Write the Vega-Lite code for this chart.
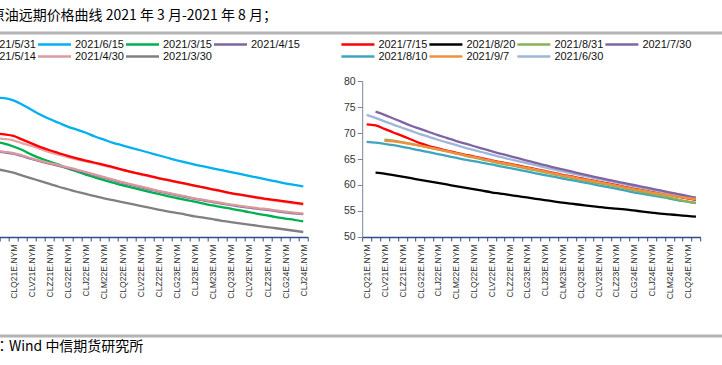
{
"$schema":"https://vega.github.io/schema/vega-lite/v6.json",
"padding":{"left":-61.3,"top":9,"right":0,"bottom":0},
"background":"white",
"bounds":"flush",
"spacing":10,
"config":{"view":{"stroke":null},"font":"Liberation Sans","line":{"strokeWidth":2.3,"interpolate":"monotone"}},
"datasets":{
"L":[
{"series":"2021/3/30","contract":"CLM21E.NYM","price":60.9},{"series":"2021/3/30","contract":"CLN21E.NYM","price":60.65},{"series":"2021/3/30","contract":"CLQ21E.NYM","price":60.3},{"series":"2021/3/30","contract":"CLU21E.NYM","price":59.85},{"series":"2021/3/30","contract":"CLV21E.NYM","price":59.4},{"series":"2021/3/30","contract":"CLX21E.NYM","price":58.95},{"series":"2021/3/30","contract":"CLZ21E.NYM","price":58.5},{"series":"2021/3/30","contract":"CLF22E.NYM","price":58.05},{"series":"2021/3/30","contract":"CLG22E.NYM","price":57.65},{"series":"2021/3/30","contract":"CLH22E.NYM","price":57.25},{"series":"2021/3/30","contract":"CLJ22E.NYM","price":56.9},{"series":"2021/3/30","contract":"CLK22E.NYM","price":56.55},{"series":"2021/3/30","contract":"CLM22E.NYM","price":56.2},{"series":"2021/3/30","contract":"CLN22E.NYM","price":55.9},{"series":"2021/3/30","contract":"CLQ22E.NYM","price":55.6},{"series":"2021/3/30","contract":"CLU22E.NYM","price":55.3},{"series":"2021/3/30","contract":"CLV22E.NYM","price":55.0},{"series":"2021/3/30","contract":"CLX22E.NYM","price":54.7},{"series":"2021/3/30","contract":"CLZ22E.NYM","price":54.4},{"series":"2021/3/30","contract":"CLF23E.NYM","price":54.1},{"series":"2021/3/30","contract":"CLG23E.NYM","price":53.85},{"series":"2021/3/30","contract":"CLH23E.NYM","price":53.6},{"series":"2021/3/30","contract":"CLJ23E.NYM","price":53.3},{"series":"2021/3/30","contract":"CLK23E.NYM","price":53.1},{"series":"2021/3/30","contract":"CLM23E.NYM","price":52.85},{"series":"2021/3/30","contract":"CLN23E.NYM","price":52.6},{"series":"2021/3/30","contract":"CLQ23E.NYM","price":52.4},{"series":"2021/3/30","contract":"CLU23E.NYM","price":52.2},{"series":"2021/3/30","contract":"CLV23E.NYM","price":52.0},{"series":"2021/3/30","contract":"CLX23E.NYM","price":51.8},{"series":"2021/3/30","contract":"CLZ23E.NYM","price":51.6},{"series":"2021/3/30","contract":"CLF24E.NYM","price":51.4},{"series":"2021/3/30","contract":"CLG24E.NYM","price":51.2},{"series":"2021/3/30","contract":"CLH24E.NYM","price":51.0},{"series":"2021/3/30","contract":"CLJ24E.NYM","price":50.8},
{"series":"2021/3/15","contract":"CLM21E.NYM","price":65.3},{"series":"2021/3/15","contract":"CLN21E.NYM","price":64.95},{"series":"2021/3/15","contract":"CLQ21E.NYM","price":64.5},{"series":"2021/3/15","contract":"CLU21E.NYM","price":63.95},{"series":"2021/3/15","contract":"CLV21E.NYM","price":63.2},{"series":"2021/3/15","contract":"CLX21E.NYM","price":62.6},{"series":"2021/3/15","contract":"CLZ21E.NYM","price":62.1},{"series":"2021/3/15","contract":"CLF22E.NYM","price":61.6},{"series":"2021/3/15","contract":"CLG22E.NYM","price":61.0},{"series":"2021/3/15","contract":"CLH22E.NYM","price":60.5},{"series":"2021/3/15","contract":"CLJ22E.NYM","price":60.0},{"series":"2021/3/15","contract":"CLK22E.NYM","price":59.55},{"series":"2021/3/15","contract":"CLM22E.NYM","price":59.1},{"series":"2021/3/15","contract":"CLN22E.NYM","price":58.7},{"series":"2021/3/15","contract":"CLQ22E.NYM","price":58.3},{"series":"2021/3/15","contract":"CLU22E.NYM","price":57.95},{"series":"2021/3/15","contract":"CLV22E.NYM","price":57.6},{"series":"2021/3/15","contract":"CLX22E.NYM","price":57.25},{"series":"2021/3/15","contract":"CLZ22E.NYM","price":56.9},{"series":"2021/3/15","contract":"CLF23E.NYM","price":56.55},{"series":"2021/3/15","contract":"CLG23E.NYM","price":56.25},{"series":"2021/3/15","contract":"CLH23E.NYM","price":55.95},{"series":"2021/3/15","contract":"CLJ23E.NYM","price":55.65},{"series":"2021/3/15","contract":"CLK23E.NYM","price":55.35},{"series":"2021/3/15","contract":"CLM23E.NYM","price":55.05},{"series":"2021/3/15","contract":"CLN23E.NYM","price":54.8},{"series":"2021/3/15","contract":"CLQ23E.NYM","price":54.55},{"series":"2021/3/15","contract":"CLU23E.NYM","price":54.25},{"series":"2021/3/15","contract":"CLV23E.NYM","price":54.0},{"series":"2021/3/15","contract":"CLX23E.NYM","price":53.7},{"series":"2021/3/15","contract":"CLZ23E.NYM","price":53.45},{"series":"2021/3/15","contract":"CLF24E.NYM","price":53.2},{"series":"2021/3/15","contract":"CLG24E.NYM","price":52.95},{"series":"2021/3/15","contract":"CLH24E.NYM","price":52.75},{"series":"2021/3/15","contract":"CLJ24E.NYM","price":52.5},
{"series":"2021/4/15","contract":"CLM21E.NYM","price":63.75},{"series":"2021/4/15","contract":"CLN21E.NYM","price":63.55},{"series":"2021/4/15","contract":"CLQ21E.NYM","price":63.35},{"series":"2021/4/15","contract":"CLU21E.NYM","price":62.95},{"series":"2021/4/15","contract":"CLV21E.NYM","price":62.5},{"series":"2021/4/15","contract":"CLX21E.NYM","price":62.1},{"series":"2021/4/15","contract":"CLZ21E.NYM","price":61.75},{"series":"2021/4/15","contract":"CLF22E.NYM","price":61.4},{"series":"2021/4/15","contract":"CLG22E.NYM","price":61.05},{"series":"2021/4/15","contract":"CLH22E.NYM","price":60.7},{"series":"2021/4/15","contract":"CLJ22E.NYM","price":60.3},{"series":"2021/4/15","contract":"CLK22E.NYM","price":59.9},{"series":"2021/4/15","contract":"CLM22E.NYM","price":59.5},{"series":"2021/4/15","contract":"CLN22E.NYM","price":59.1},{"series":"2021/4/15","contract":"CLQ22E.NYM","price":58.7},{"series":"2021/4/15","contract":"CLU22E.NYM","price":58.35},{"series":"2021/4/15","contract":"CLV22E.NYM","price":58.0},{"series":"2021/4/15","contract":"CLX22E.NYM","price":57.65},{"series":"2021/4/15","contract":"CLZ22E.NYM","price":57.3},{"series":"2021/4/15","contract":"CLF23E.NYM","price":57.0},{"series":"2021/4/15","contract":"CLG23E.NYM","price":56.7},{"series":"2021/4/15","contract":"CLH23E.NYM","price":56.4},{"series":"2021/4/15","contract":"CLJ23E.NYM","price":56.1},{"series":"2021/4/15","contract":"CLK23E.NYM","price":55.85},{"series":"2021/4/15","contract":"CLM23E.NYM","price":55.6},{"series":"2021/4/15","contract":"CLN23E.NYM","price":55.35},{"series":"2021/4/15","contract":"CLQ23E.NYM","price":55.1},{"series":"2021/4/15","contract":"CLU23E.NYM","price":54.9},{"series":"2021/4/15","contract":"CLV23E.NYM","price":54.7},{"series":"2021/4/15","contract":"CLX23E.NYM","price":54.5},{"series":"2021/4/15","contract":"CLZ23E.NYM","price":54.35},{"series":"2021/4/15","contract":"CLF24E.NYM","price":54.15},{"series":"2021/4/15","contract":"CLG24E.NYM","price":53.95},{"series":"2021/4/15","contract":"CLH24E.NYM","price":53.8},{"series":"2021/4/15","contract":"CLJ24E.NYM","price":53.65},
{"series":"2021/4/30","contract":"CLM21E.NYM","price":63.85},{"series":"2021/4/30","contract":"CLN21E.NYM","price":63.65},{"series":"2021/4/30","contract":"CLQ21E.NYM","price":63.45},{"series":"2021/4/30","contract":"CLU21E.NYM","price":63.05},{"series":"2021/4/30","contract":"CLV21E.NYM","price":62.6},{"series":"2021/4/30","contract":"CLX21E.NYM","price":62.2},{"series":"2021/4/30","contract":"CLZ21E.NYM","price":61.85},{"series":"2021/4/30","contract":"CLF22E.NYM","price":61.5},{"series":"2021/4/30","contract":"CLG22E.NYM","price":61.15},{"series":"2021/4/30","contract":"CLH22E.NYM","price":60.8},{"series":"2021/4/30","contract":"CLJ22E.NYM","price":60.4},{"series":"2021/4/30","contract":"CLK22E.NYM","price":60.0},{"series":"2021/4/30","contract":"CLM22E.NYM","price":59.6},{"series":"2021/4/30","contract":"CLN22E.NYM","price":59.2},{"series":"2021/4/30","contract":"CLQ22E.NYM","price":58.8},{"series":"2021/4/30","contract":"CLU22E.NYM","price":58.45},{"series":"2021/4/30","contract":"CLV22E.NYM","price":58.1},{"series":"2021/4/30","contract":"CLX22E.NYM","price":57.75},{"series":"2021/4/30","contract":"CLZ22E.NYM","price":57.4},{"series":"2021/4/30","contract":"CLF23E.NYM","price":57.1},{"series":"2021/4/30","contract":"CLG23E.NYM","price":56.8},{"series":"2021/4/30","contract":"CLH23E.NYM","price":56.5},{"series":"2021/4/30","contract":"CLJ23E.NYM","price":56.2},{"series":"2021/4/30","contract":"CLK23E.NYM","price":55.95},{"series":"2021/4/30","contract":"CLM23E.NYM","price":55.7},{"series":"2021/4/30","contract":"CLN23E.NYM","price":55.45},{"series":"2021/4/30","contract":"CLQ23E.NYM","price":55.2},{"series":"2021/4/30","contract":"CLU23E.NYM","price":55.0},{"series":"2021/4/30","contract":"CLV23E.NYM","price":54.8},{"series":"2021/4/30","contract":"CLX23E.NYM","price":54.6},{"series":"2021/4/30","contract":"CLZ23E.NYM","price":54.45},{"series":"2021/4/30","contract":"CLF24E.NYM","price":54.25},{"series":"2021/4/30","contract":"CLG24E.NYM","price":54.05},{"series":"2021/4/30","contract":"CLH24E.NYM","price":53.9},{"series":"2021/4/30","contract":"CLJ24E.NYM","price":53.75},
{"series":"2021/5/14","contract":"CLM21E.NYM","price":65.8},{"series":"2021/5/14","contract":"CLN21E.NYM","price":65.7},{"series":"2021/5/14","contract":"CLQ21E.NYM","price":65.5},{"series":"2021/5/14","contract":"CLU21E.NYM","price":65.0},{"series":"2021/5/14","contract":"CLV21E.NYM","price":64.6},{"series":"2021/5/14","contract":"CLX21E.NYM","price":64.1},{"series":"2021/5/14","contract":"CLZ21E.NYM","price":63.6},{"series":"2021/5/14","contract":"CLF22E.NYM","price":63.2},{"series":"2021/5/14","contract":"CLG22E.NYM","price":62.8},{"series":"2021/5/14","contract":"CLH22E.NYM","price":62.45},{"series":"2021/5/14","contract":"CLJ22E.NYM","price":62.1},{"series":"2021/5/14","contract":"CLK22E.NYM","price":61.8},{"series":"2021/5/14","contract":"CLM22E.NYM","price":61.45},{"series":"2021/5/14","contract":"CLN22E.NYM","price":61.1},{"series":"2021/5/14","contract":"CLQ22E.NYM","price":60.75},{"series":"2021/5/14","contract":"CLU22E.NYM","price":60.4},{"series":"2021/5/14","contract":"CLV22E.NYM","price":60.05},{"series":"2021/5/14","contract":"CLX22E.NYM","price":59.7},{"series":"2021/5/14","contract":"CLZ22E.NYM","price":59.4},{"series":"2021/5/14","contract":"CLF23E.NYM","price":59.1},{"series":"2021/5/14","contract":"CLG23E.NYM","price":58.8},{"series":"2021/5/14","contract":"CLH23E.NYM","price":58.5},{"series":"2021/5/14","contract":"CLJ23E.NYM","price":58.2},{"series":"2021/5/14","contract":"CLK23E.NYM","price":57.9},{"series":"2021/5/14","contract":"CLM23E.NYM","price":57.6},{"series":"2021/5/14","contract":"CLN23E.NYM","price":57.3},{"series":"2021/5/14","contract":"CLQ23E.NYM","price":57.0},{"series":"2021/5/14","contract":"CLU23E.NYM","price":56.75},{"series":"2021/5/14","contract":"CLV23E.NYM","price":56.5},{"series":"2021/5/14","contract":"CLX23E.NYM","price":56.25},{"series":"2021/5/14","contract":"CLZ23E.NYM","price":56.0},{"series":"2021/5/14","contract":"CLF24E.NYM","price":55.8},{"series":"2021/5/14","contract":"CLG24E.NYM","price":55.6},{"series":"2021/5/14","contract":"CLH24E.NYM","price":55.4},{"series":"2021/5/14","contract":"CLJ24E.NYM","price":55.2},
{"series":"2021/5/31","contract":"CLM21E.NYM","price":66.6},{"series":"2021/5/31","contract":"CLN21E.NYM","price":66.45},{"series":"2021/5/31","contract":"CLQ21E.NYM","price":66.2},{"series":"2021/5/31","contract":"CLU21E.NYM","price":65.6},{"series":"2021/5/31","contract":"CLV21E.NYM","price":65.0},{"series":"2021/5/31","contract":"CLX21E.NYM","price":64.4},{"series":"2021/5/31","contract":"CLZ21E.NYM","price":63.9},{"series":"2021/5/31","contract":"CLF22E.NYM","price":63.45},{"series":"2021/5/31","contract":"CLG22E.NYM","price":63.0},{"series":"2021/5/31","contract":"CLH22E.NYM","price":62.6},{"series":"2021/5/31","contract":"CLJ22E.NYM","price":62.25},{"series":"2021/5/31","contract":"CLK22E.NYM","price":61.9},{"series":"2021/5/31","contract":"CLM22E.NYM","price":61.55},{"series":"2021/5/31","contract":"CLN22E.NYM","price":61.2},{"series":"2021/5/31","contract":"CLQ22E.NYM","price":60.8},{"series":"2021/5/31","contract":"CLU22E.NYM","price":60.45},{"series":"2021/5/31","contract":"CLV22E.NYM","price":60.1},{"series":"2021/5/31","contract":"CLX22E.NYM","price":59.8},{"series":"2021/5/31","contract":"CLZ22E.NYM","price":59.45},{"series":"2021/5/31","contract":"CLF23E.NYM","price":59.15},{"series":"2021/5/31","contract":"CLG23E.NYM","price":58.85},{"series":"2021/5/31","contract":"CLH23E.NYM","price":58.55},{"series":"2021/5/31","contract":"CLJ23E.NYM","price":58.25},{"series":"2021/5/31","contract":"CLK23E.NYM","price":57.95},{"series":"2021/5/31","contract":"CLM23E.NYM","price":57.65},{"series":"2021/5/31","contract":"CLN23E.NYM","price":57.35},{"series":"2021/5/31","contract":"CLQ23E.NYM","price":57.05},{"series":"2021/5/31","contract":"CLU23E.NYM","price":56.8},{"series":"2021/5/31","contract":"CLV23E.NYM","price":56.55},{"series":"2021/5/31","contract":"CLX23E.NYM","price":56.3},{"series":"2021/5/31","contract":"CLZ23E.NYM","price":56.1},{"series":"2021/5/31","contract":"CLF24E.NYM","price":55.9},{"series":"2021/5/31","contract":"CLG24E.NYM","price":55.7},{"series":"2021/5/31","contract":"CLH24E.NYM","price":55.5},{"series":"2021/5/31","contract":"CLJ24E.NYM","price":55.3},
{"series":"2021/6/15","contract":"CLM21E.NYM","price":72.3},{"series":"2021/6/15","contract":"CLN21E.NYM","price":72.25},{"series":"2021/6/15","contract":"CLQ21E.NYM","price":71.9},{"series":"2021/6/15","contract":"CLU21E.NYM","price":71.2},{"series":"2021/6/15","contract":"CLV21E.NYM","price":70.4},{"series":"2021/6/15","contract":"CLX21E.NYM","price":69.6},{"series":"2021/6/15","contract":"CLZ21E.NYM","price":68.9},{"series":"2021/6/15","contract":"CLF22E.NYM","price":68.3},{"series":"2021/6/15","contract":"CLG22E.NYM","price":67.7},{"series":"2021/6/15","contract":"CLH22E.NYM","price":67.2},{"series":"2021/6/15","contract":"CLJ22E.NYM","price":66.7},{"series":"2021/6/15","contract":"CLK22E.NYM","price":66.1},{"series":"2021/6/15","contract":"CLM22E.NYM","price":65.6},{"series":"2021/6/15","contract":"CLN22E.NYM","price":65.1},{"series":"2021/6/15","contract":"CLQ22E.NYM","price":64.7},{"series":"2021/6/15","contract":"CLU22E.NYM","price":64.3},{"series":"2021/6/15","contract":"CLV22E.NYM","price":63.9},{"series":"2021/6/15","contract":"CLX22E.NYM","price":63.5},{"series":"2021/6/15","contract":"CLZ22E.NYM","price":63.1},{"series":"2021/6/15","contract":"CLF23E.NYM","price":62.7},{"series":"2021/6/15","contract":"CLG23E.NYM","price":62.3},{"series":"2021/6/15","contract":"CLH23E.NYM","price":61.95},{"series":"2021/6/15","contract":"CLJ23E.NYM","price":61.6},{"series":"2021/6/15","contract":"CLK23E.NYM","price":61.3},{"series":"2021/6/15","contract":"CLM23E.NYM","price":61.0},{"series":"2021/6/15","contract":"CLN23E.NYM","price":60.7},{"series":"2021/6/15","contract":"CLQ23E.NYM","price":60.4},{"series":"2021/6/15","contract":"CLU23E.NYM","price":60.1},{"series":"2021/6/15","contract":"CLV23E.NYM","price":59.8},{"series":"2021/6/15","contract":"CLX23E.NYM","price":59.5},{"series":"2021/6/15","contract":"CLZ23E.NYM","price":59.2},{"series":"2021/6/15","contract":"CLF24E.NYM","price":58.9},{"series":"2021/6/15","contract":"CLG24E.NYM","price":58.6},{"series":"2021/6/15","contract":"CLH24E.NYM","price":58.35},{"series":"2021/6/15","contract":"CLJ24E.NYM","price":58.1}
],
"R":[
{"series":"2021/8/20","contract":"CLU21E.NYM","price":62.4},{"series":"2021/8/20","contract":"CLV21E.NYM","price":62.2},{"series":"2021/8/20","contract":"CLX21E.NYM","price":61.9},{"series":"2021/8/20","contract":"CLZ21E.NYM","price":61.6},{"series":"2021/8/20","contract":"CLF22E.NYM","price":61.3},{"series":"2021/8/20","contract":"CLG22E.NYM","price":61.0},{"series":"2021/8/20","contract":"CLH22E.NYM","price":60.7},{"series":"2021/8/20","contract":"CLJ22E.NYM","price":60.4},{"series":"2021/8/20","contract":"CLK22E.NYM","price":60.1},{"series":"2021/8/20","contract":"CLM22E.NYM","price":59.8},{"series":"2021/8/20","contract":"CLN22E.NYM","price":59.5},{"series":"2021/8/20","contract":"CLQ22E.NYM","price":59.2},{"series":"2021/8/20","contract":"CLU22E.NYM","price":58.9},{"series":"2021/8/20","contract":"CLV22E.NYM","price":58.6},{"series":"2021/8/20","contract":"CLX22E.NYM","price":58.35},{"series":"2021/8/20","contract":"CLZ22E.NYM","price":58.1},{"series":"2021/8/20","contract":"CLF23E.NYM","price":57.85},{"series":"2021/8/20","contract":"CLG23E.NYM","price":57.6},{"series":"2021/8/20","contract":"CLH23E.NYM","price":57.35},{"series":"2021/8/20","contract":"CLJ23E.NYM","price":57.1},{"series":"2021/8/20","contract":"CLK23E.NYM","price":56.85},{"series":"2021/8/20","contract":"CLM23E.NYM","price":56.6},{"series":"2021/8/20","contract":"CLN23E.NYM","price":56.4},{"series":"2021/8/20","contract":"CLQ23E.NYM","price":56.2},{"series":"2021/8/20","contract":"CLU23E.NYM","price":56.0},{"series":"2021/8/20","contract":"CLV23E.NYM","price":55.8},{"series":"2021/8/20","contract":"CLX23E.NYM","price":55.6},{"series":"2021/8/20","contract":"CLZ23E.NYM","price":55.45},{"series":"2021/8/20","contract":"CLF24E.NYM","price":55.3},{"series":"2021/8/20","contract":"CLG24E.NYM","price":55.1},{"series":"2021/8/20","contract":"CLH24E.NYM","price":54.9},{"series":"2021/8/20","contract":"CLJ24E.NYM","price":54.7},{"series":"2021/8/20","contract":"CLK24E.NYM","price":54.5},{"series":"2021/8/20","contract":"CLM24E.NYM","price":54.35},{"series":"2021/8/20","contract":"CLN24E.NYM","price":54.2},{"series":"2021/8/20","contract":"CLQ24E.NYM","price":54.05},{"series":"2021/8/20","contract":"CLU24E.NYM","price":53.9},
{"series":"2021/8/10","contract":"CLQ21E.NYM","price":68.3},{"series":"2021/8/10","contract":"CLU21E.NYM","price":68.15},{"series":"2021/8/10","contract":"CLV21E.NYM","price":67.9},{"series":"2021/8/10","contract":"CLX21E.NYM","price":67.65},{"series":"2021/8/10","contract":"CLZ21E.NYM","price":67.35},{"series":"2021/8/10","contract":"CLF22E.NYM","price":67.0},{"series":"2021/8/10","contract":"CLG22E.NYM","price":66.65},{"series":"2021/8/10","contract":"CLH22E.NYM","price":66.3},{"series":"2021/8/10","contract":"CLJ22E.NYM","price":65.95},{"series":"2021/8/10","contract":"CLK22E.NYM","price":65.6},{"series":"2021/8/10","contract":"CLM22E.NYM","price":65.25},{"series":"2021/8/10","contract":"CLN22E.NYM","price":64.9},{"series":"2021/8/10","contract":"CLQ22E.NYM","price":64.6},{"series":"2021/8/10","contract":"CLU22E.NYM","price":64.25},{"series":"2021/8/10","contract":"CLV22E.NYM","price":63.95},{"series":"2021/8/10","contract":"CLX22E.NYM","price":63.6},{"series":"2021/8/10","contract":"CLZ22E.NYM","price":63.3},{"series":"2021/8/10","contract":"CLF23E.NYM","price":62.95},{"series":"2021/8/10","contract":"CLG23E.NYM","price":62.6},{"series":"2021/8/10","contract":"CLH23E.NYM","price":62.25},{"series":"2021/8/10","contract":"CLJ23E.NYM","price":61.9},{"series":"2021/8/10","contract":"CLK23E.NYM","price":61.6},{"series":"2021/8/10","contract":"CLM23E.NYM","price":61.25},{"series":"2021/8/10","contract":"CLN23E.NYM","price":60.95},{"series":"2021/8/10","contract":"CLQ23E.NYM","price":60.6},{"series":"2021/8/10","contract":"CLU23E.NYM","price":60.3},{"series":"2021/8/10","contract":"CLV23E.NYM","price":59.95},{"series":"2021/8/10","contract":"CLX23E.NYM","price":59.65},{"series":"2021/8/10","contract":"CLZ23E.NYM","price":59.3},{"series":"2021/8/10","contract":"CLF24E.NYM","price":58.95},{"series":"2021/8/10","contract":"CLG24E.NYM","price":58.6},{"series":"2021/8/10","contract":"CLH24E.NYM","price":58.3},{"series":"2021/8/10","contract":"CLJ24E.NYM","price":58.0},{"series":"2021/8/10","contract":"CLK24E.NYM","price":57.7},{"series":"2021/8/10","contract":"CLM24E.NYM","price":57.4},{"series":"2021/8/10","contract":"CLN24E.NYM","price":57.05},{"series":"2021/8/10","contract":"CLQ24E.NYM","price":56.8},{"series":"2021/8/10","contract":"CLU24E.NYM","price":56.55},
{"series":"2021/7/15","contract":"CLQ21E.NYM","price":71.65},{"series":"2021/7/15","contract":"CLU21E.NYM","price":71.45},{"series":"2021/7/15","contract":"CLV21E.NYM","price":70.8},{"series":"2021/7/15","contract":"CLX21E.NYM","price":70.1},{"series":"2021/7/15","contract":"CLZ21E.NYM","price":69.45},{"series":"2021/7/15","contract":"CLF22E.NYM","price":68.75},{"series":"2021/7/15","contract":"CLG22E.NYM","price":68.05},{"series":"2021/7/15","contract":"CLH22E.NYM","price":67.5},{"series":"2021/7/15","contract":"CLJ22E.NYM","price":67.05},{"series":"2021/7/15","contract":"CLK22E.NYM","price":66.6},{"series":"2021/7/15","contract":"CLM22E.NYM","price":66.25},{"series":"2021/7/15","contract":"CLN22E.NYM","price":65.85},{"series":"2021/7/15","contract":"CLQ22E.NYM","price":65.5},{"series":"2021/7/15","contract":"CLU22E.NYM","price":65.1},{"series":"2021/7/15","contract":"CLV22E.NYM","price":64.75},{"series":"2021/7/15","contract":"CLX22E.NYM","price":64.4},{"series":"2021/7/15","contract":"CLZ22E.NYM","price":64.1},{"series":"2021/7/15","contract":"CLF23E.NYM","price":63.75},{"series":"2021/7/15","contract":"CLG23E.NYM","price":63.4},{"series":"2021/7/15","contract":"CLH23E.NYM","price":63.05},{"series":"2021/7/15","contract":"CLJ23E.NYM","price":62.7},{"series":"2021/7/15","contract":"CLK23E.NYM","price":62.35},{"series":"2021/7/15","contract":"CLM23E.NYM","price":61.95},{"series":"2021/7/15","contract":"CLN23E.NYM","price":61.65},{"series":"2021/7/15","contract":"CLQ23E.NYM","price":61.3},{"series":"2021/7/15","contract":"CLU23E.NYM","price":61.0},{"series":"2021/7/15","contract":"CLV23E.NYM","price":60.65},{"series":"2021/7/15","contract":"CLX23E.NYM","price":60.35},{"series":"2021/7/15","contract":"CLZ23E.NYM","price":60.0},{"series":"2021/7/15","contract":"CLF24E.NYM","price":59.65},{"series":"2021/7/15","contract":"CLG24E.NYM","price":59.3},{"series":"2021/7/15","contract":"CLH24E.NYM","price":59.0},{"series":"2021/7/15","contract":"CLJ24E.NYM","price":58.7},{"series":"2021/7/15","contract":"CLK24E.NYM","price":58.4},{"series":"2021/7/15","contract":"CLM24E.NYM","price":58.1},{"series":"2021/7/15","contract":"CLN24E.NYM","price":57.75},{"series":"2021/7/15","contract":"CLQ24E.NYM","price":57.45},{"series":"2021/7/15","contract":"CLU24E.NYM","price":57.15},
{"series":"2021/6/30","contract":"CLQ21E.NYM","price":73.5},{"series":"2021/6/30","contract":"CLU21E.NYM","price":72.9},{"series":"2021/6/30","contract":"CLV21E.NYM","price":72.25},{"series":"2021/6/30","contract":"CLX21E.NYM","price":71.6},{"series":"2021/6/30","contract":"CLZ21E.NYM","price":71.0},{"series":"2021/6/30","contract":"CLF22E.NYM","price":70.4},{"series":"2021/6/30","contract":"CLG22E.NYM","price":69.8},{"series":"2021/6/30","contract":"CLH22E.NYM","price":69.25},{"series":"2021/6/30","contract":"CLJ22E.NYM","price":68.7},{"series":"2021/6/30","contract":"CLK22E.NYM","price":68.2},{"series":"2021/6/30","contract":"CLM22E.NYM","price":67.7},{"series":"2021/6/30","contract":"CLN22E.NYM","price":67.2},{"series":"2021/6/30","contract":"CLQ22E.NYM","price":66.75},{"series":"2021/6/30","contract":"CLU22E.NYM","price":66.3},{"series":"2021/6/30","contract":"CLV22E.NYM","price":65.85},{"series":"2021/6/30","contract":"CLX22E.NYM","price":65.4},{"series":"2021/6/30","contract":"CLZ22E.NYM","price":65.0},{"series":"2021/6/30","contract":"CLF23E.NYM","price":64.6},{"series":"2021/6/30","contract":"CLG23E.NYM","price":64.2},{"series":"2021/6/30","contract":"CLH23E.NYM","price":63.8},{"series":"2021/6/30","contract":"CLJ23E.NYM","price":63.4},{"series":"2021/6/30","contract":"CLK23E.NYM","price":63.0},{"series":"2021/6/30","contract":"CLM23E.NYM","price":62.6},{"series":"2021/6/30","contract":"CLN23E.NYM","price":62.25},{"series":"2021/6/30","contract":"CLQ23E.NYM","price":61.9},{"series":"2021/6/30","contract":"CLU23E.NYM","price":61.55},{"series":"2021/6/30","contract":"CLV23E.NYM","price":61.2},{"series":"2021/6/30","contract":"CLX23E.NYM","price":60.85},{"series":"2021/6/30","contract":"CLZ23E.NYM","price":60.5},{"series":"2021/6/30","contract":"CLF24E.NYM","price":60.15},{"series":"2021/6/30","contract":"CLG24E.NYM","price":59.8},{"series":"2021/6/30","contract":"CLH24E.NYM","price":59.45},{"series":"2021/6/30","contract":"CLJ24E.NYM","price":59.1},{"series":"2021/6/30","contract":"CLK24E.NYM","price":58.75},{"series":"2021/6/30","contract":"CLM24E.NYM","price":58.4},{"series":"2021/6/30","contract":"CLN24E.NYM","price":58.05},{"series":"2021/6/30","contract":"CLQ24E.NYM","price":57.7},{"series":"2021/6/30","contract":"CLU24E.NYM","price":57.35},
{"series":"2021/7/30","contract":"CLU21E.NYM","price":74.1},{"series":"2021/7/30","contract":"CLV21E.NYM","price":73.5},{"series":"2021/7/30","contract":"CLX21E.NYM","price":72.8},{"series":"2021/7/30","contract":"CLZ21E.NYM","price":72.1},{"series":"2021/7/30","contract":"CLF22E.NYM","price":71.4},{"series":"2021/7/30","contract":"CLG22E.NYM","price":70.8},{"series":"2021/7/30","contract":"CLH22E.NYM","price":70.2},{"series":"2021/7/30","contract":"CLJ22E.NYM","price":69.6},{"series":"2021/7/30","contract":"CLK22E.NYM","price":69.05},{"series":"2021/7/30","contract":"CLM22E.NYM","price":68.5},{"series":"2021/7/30","contract":"CLN22E.NYM","price":68.0},{"series":"2021/7/30","contract":"CLQ22E.NYM","price":67.5},{"series":"2021/7/30","contract":"CLU22E.NYM","price":67.0},{"series":"2021/7/30","contract":"CLV22E.NYM","price":66.5},{"series":"2021/7/30","contract":"CLX22E.NYM","price":66.05},{"series":"2021/7/30","contract":"CLZ22E.NYM","price":65.6},{"series":"2021/7/30","contract":"CLF23E.NYM","price":65.15},{"series":"2021/7/30","contract":"CLG23E.NYM","price":64.7},{"series":"2021/7/30","contract":"CLH23E.NYM","price":64.25},{"series":"2021/7/30","contract":"CLJ23E.NYM","price":63.8},{"series":"2021/7/30","contract":"CLK23E.NYM","price":63.4},{"series":"2021/7/30","contract":"CLM23E.NYM","price":63.0},{"series":"2021/7/30","contract":"CLN23E.NYM","price":62.6},{"series":"2021/7/30","contract":"CLQ23E.NYM","price":62.2},{"series":"2021/7/30","contract":"CLU23E.NYM","price":61.8},{"series":"2021/7/30","contract":"CLV23E.NYM","price":61.4},{"series":"2021/7/30","contract":"CLX23E.NYM","price":61.05},{"series":"2021/7/30","contract":"CLZ23E.NYM","price":60.7},{"series":"2021/7/30","contract":"CLF24E.NYM","price":60.35},{"series":"2021/7/30","contract":"CLG24E.NYM","price":60.0},{"series":"2021/7/30","contract":"CLH24E.NYM","price":59.65},{"series":"2021/7/30","contract":"CLJ24E.NYM","price":59.3},{"series":"2021/7/30","contract":"CLK24E.NYM","price":58.95},{"series":"2021/7/30","contract":"CLM24E.NYM","price":58.6},{"series":"2021/7/30","contract":"CLN24E.NYM","price":58.25},{"series":"2021/7/30","contract":"CLQ24E.NYM","price":57.9},{"series":"2021/7/30","contract":"CLU24E.NYM","price":57.55},
{"series":"2021/8/31","contract":"CLV21E.NYM","price":68.7},{"series":"2021/8/31","contract":"CLX21E.NYM","price":68.55},{"series":"2021/8/31","contract":"CLZ21E.NYM","price":68.25},{"series":"2021/8/31","contract":"CLF22E.NYM","price":67.9},{"series":"2021/8/31","contract":"CLG22E.NYM","price":67.55},{"series":"2021/8/31","contract":"CLH22E.NYM","price":67.2},{"series":"2021/8/31","contract":"CLJ22E.NYM","price":66.85},{"series":"2021/8/31","contract":"CLK22E.NYM","price":66.45},{"series":"2021/8/31","contract":"CLM22E.NYM","price":66.05},{"series":"2021/8/31","contract":"CLN22E.NYM","price":65.65},{"series":"2021/8/31","contract":"CLQ22E.NYM","price":65.3},{"series":"2021/8/31","contract":"CLU22E.NYM","price":64.9},{"series":"2021/8/31","contract":"CLV22E.NYM","price":64.55},{"series":"2021/8/31","contract":"CLX22E.NYM","price":64.15},{"series":"2021/8/31","contract":"CLZ22E.NYM","price":63.85},{"series":"2021/8/31","contract":"CLF23E.NYM","price":63.5},{"series":"2021/8/31","contract":"CLG23E.NYM","price":63.15},{"series":"2021/8/31","contract":"CLH23E.NYM","price":62.8},{"series":"2021/8/31","contract":"CLJ23E.NYM","price":62.45},{"series":"2021/8/31","contract":"CLK23E.NYM","price":62.1},{"series":"2021/8/31","contract":"CLM23E.NYM","price":61.7},{"series":"2021/8/31","contract":"CLN23E.NYM","price":61.35},{"series":"2021/8/31","contract":"CLQ23E.NYM","price":61.0},{"series":"2021/8/31","contract":"CLU23E.NYM","price":60.7},{"series":"2021/8/31","contract":"CLV23E.NYM","price":60.35},{"series":"2021/8/31","contract":"CLX23E.NYM","price":60.05},{"series":"2021/8/31","contract":"CLZ23E.NYM","price":59.7},{"series":"2021/8/31","contract":"CLF24E.NYM","price":59.35},{"series":"2021/8/31","contract":"CLG24E.NYM","price":59.0},{"series":"2021/8/31","contract":"CLH24E.NYM","price":58.65},{"series":"2021/8/31","contract":"CLJ24E.NYM","price":58.3},{"series":"2021/8/31","contract":"CLK24E.NYM","price":57.95},{"series":"2021/8/31","contract":"CLM24E.NYM","price":57.6},{"series":"2021/8/31","contract":"CLN24E.NYM","price":57.2},{"series":"2021/8/31","contract":"CLQ24E.NYM","price":56.85},{"series":"2021/8/31","contract":"CLU24E.NYM","price":56.5},
{"series":"2021/9/7","contract":"CLV21E.NYM","price":68.5},{"series":"2021/9/7","contract":"CLX21E.NYM","price":68.4},{"series":"2021/9/7","contract":"CLZ21E.NYM","price":68.15},{"series":"2021/9/7","contract":"CLF22E.NYM","price":67.85},{"series":"2021/9/7","contract":"CLG22E.NYM","price":67.55},{"series":"2021/9/7","contract":"CLH22E.NYM","price":67.2},{"series":"2021/9/7","contract":"CLJ22E.NYM","price":66.85},{"series":"2021/9/7","contract":"CLK22E.NYM","price":66.5},{"series":"2021/9/7","contract":"CLM22E.NYM","price":66.15},{"series":"2021/9/7","contract":"CLN22E.NYM","price":65.75},{"series":"2021/9/7","contract":"CLQ22E.NYM","price":65.4},{"series":"2021/9/7","contract":"CLU22E.NYM","price":65.0},{"series":"2021/9/7","contract":"CLV22E.NYM","price":64.65},{"series":"2021/9/7","contract":"CLX22E.NYM","price":64.3},{"series":"2021/9/7","contract":"CLZ22E.NYM","price":64.0},{"series":"2021/9/7","contract":"CLF23E.NYM","price":63.65},{"series":"2021/9/7","contract":"CLG23E.NYM","price":63.3},{"series":"2021/9/7","contract":"CLH23E.NYM","price":62.95},{"series":"2021/9/7","contract":"CLJ23E.NYM","price":62.6},{"series":"2021/9/7","contract":"CLK23E.NYM","price":62.25},{"series":"2021/9/7","contract":"CLM23E.NYM","price":61.85},{"series":"2021/9/7","contract":"CLN23E.NYM","price":61.55},{"series":"2021/9/7","contract":"CLQ23E.NYM","price":61.2},{"series":"2021/9/7","contract":"CLU23E.NYM","price":60.9},{"series":"2021/9/7","contract":"CLV23E.NYM","price":60.55},{"series":"2021/9/7","contract":"CLX23E.NYM","price":60.25},{"series":"2021/9/7","contract":"CLZ23E.NYM","price":59.9},{"series":"2021/9/7","contract":"CLF24E.NYM","price":59.55},{"series":"2021/9/7","contract":"CLG24E.NYM","price":59.2},{"series":"2021/9/7","contract":"CLH24E.NYM","price":58.9},{"series":"2021/9/7","contract":"CLJ24E.NYM","price":58.6},{"series":"2021/9/7","contract":"CLK24E.NYM","price":58.3},{"series":"2021/9/7","contract":"CLM24E.NYM","price":58.05},{"series":"2021/9/7","contract":"CLN24E.NYM","price":57.75},{"series":"2021/9/7","contract":"CLQ24E.NYM","price":57.5},{"series":"2021/9/7","contract":"CLU24E.NYM","price":57.3}
]
},
"vconcat":[
{
"width":760,"height":37.6,
"data":{"values":[{"v":1}]},
"mark":{"type":"rule","color":"#B4B4B4","strokeWidth":3},
"encoding":{"y":{"field":"v","type":"quantitative","scale":{"domain":[0,1]},"axis":null}},
"title":{"text":"原油远期价格曲线 2021 年 3 月-2021 年 8 月；","anchor":"start","frame":"group","font":"Noto Sans CJK SC","fontSize":14,"fontWeight":"normal","color":"#000000","baseline":"alphabetic","offset":-2.6}
},
{
"bounds":"flush",
"spacing":53.5,
"resolve":{"scale":{"color":"independent","x":"independent","y":"independent"},"legend":{"color":"independent"}},
"hconcat":[
{
"width":317.1,"height":156,
"data":{"name":"L"},
"mark":{"type":"line","strokeWidth":2.3,"interpolate":"monotone"},
"encoding":{
"x":{"field":"contract","type":"ordinal","bandPosition":0.5,
"sort":["CLM21E.NYM","CLN21E.NYM","CLQ21E.NYM","CLU21E.NYM","CLV21E.NYM","CLX21E.NYM","CLZ21E.NYM","CLF22E.NYM","CLG22E.NYM","CLH22E.NYM","CLJ22E.NYM","CLK22E.NYM","CLM22E.NYM","CLN22E.NYM","CLQ22E.NYM","CLU22E.NYM","CLV22E.NYM","CLX22E.NYM","CLZ22E.NYM","CLF23E.NYM","CLG23E.NYM","CLH23E.NYM","CLJ23E.NYM","CLK23E.NYM","CLM23E.NYM","CLN23E.NYM","CLQ23E.NYM","CLU23E.NYM","CLV23E.NYM","CLX23E.NYM","CLZ23E.NYM","CLF24E.NYM","CLG24E.NYM","CLH24E.NYM","CLJ24E.NYM"],
"scale":{"type":"band","paddingInner":0,"paddingOuter":0},
"axis":{"title":null,"tickBand":"extent","labelAngle":270,"labelOverlap":false,"labelExpr":"indexof('GJMQVZ', substring(datum.value,2,3)) >= 0 ? datum.value : ''","labelFont":"Liberation Sans","labelFontSize":8.6,"labelColor":"#333333","labelPadding":3,"domainColor":"#2E4C8E","domainWidth":1.5,"tickColor":"#2E4C8E","tickSize":4,"tickWidth":1}},
"y":{"field":"price","type":"quantitative","scale":{"domain":[50,75],"nice":false,"zero":false},"axis":null},
"color":{"field":"series","type":"nominal",
"scale":{"domain":["2021/5/31","2021/6/15","2021/3/15","2021/4/15","2021/5/14","2021/4/30","2021/3/30"],"range":["#FF0000","#00B0F0","#00B050","#8064A2","#E8A3A3","#DA9A9C","#808080"]},
"legend":{"orient":"none","legendX":-42.2,"legendY":-42,"direction":"horizontal","columns":4,"title":null,"symbolType":"stroke","symbolSize":1089,"symbolStrokeWidth":3,"clipHeight":11,"labelFont":"Liberation Sans","labelFontSize":11,"labelColor":"#111111","labelOffset":2.5,"columnPadding":0,"rowPadding":0,"padding":0,"labelLimit":0}}
}
},
{
"width":338.2,"height":156,
"data":{"name":"R"},
"mark":{"type":"line","strokeWidth":2.3,"interpolate":"monotone"},
"encoding":{
"x":{"field":"contract","type":"ordinal","bandPosition":0.5,
"sort":["CLQ21E.NYM","CLU21E.NYM","CLV21E.NYM","CLX21E.NYM","CLZ21E.NYM","CLF22E.NYM","CLG22E.NYM","CLH22E.NYM","CLJ22E.NYM","CLK22E.NYM","CLM22E.NYM","CLN22E.NYM","CLQ22E.NYM","CLU22E.NYM","CLV22E.NYM","CLX22E.NYM","CLZ22E.NYM","CLF23E.NYM","CLG23E.NYM","CLH23E.NYM","CLJ23E.NYM","CLK23E.NYM","CLM23E.NYM","CLN23E.NYM","CLQ23E.NYM","CLU23E.NYM","CLV23E.NYM","CLX23E.NYM","CLZ23E.NYM","CLF24E.NYM","CLG24E.NYM","CLH24E.NYM","CLJ24E.NYM","CLK24E.NYM","CLM24E.NYM","CLN24E.NYM","CLQ24E.NYM","CLU24E.NYM"],
"scale":{"type":"band","paddingInner":0,"paddingOuter":0},
"axis":{"title":null,"tickBand":"extent","labelAngle":270,"labelOverlap":false,"labelExpr":"indexof('GJMQVZ', substring(datum.value,2,3)) >= 0 ? datum.value : ''","labelFont":"Liberation Sans","labelFontSize":8.6,"labelColor":"#333333","labelPadding":3,"domainColor":"#2E4C8E","domainWidth":1.5,"tickColor":"#2E4C8E","tickSize":4,"tickWidth":1}},
"y":{"field":"price","type":"quantitative","scale":{"domain":[50,80],"nice":false,"zero":false},
"axis":{"title":null,"values":[50,55,60,65,70,75,80],"grid":false,"labelFont":"Liberation Sans","labelFontSize":10.5,"labelColor":"#333333","labelPadding":2,"domainColor":"#7A869A","tickColor":"#7A869A","tickSize":5}},
"color":{"field":"series","type":"nominal",
"scale":{"domain":["2021/7/15","2021/8/20","2021/8/31","2021/7/30","2021/8/10","2021/9/7","2021/6/30"],"range":["#FF0000","#000000","#8AB24E","#8064A2","#3FA4C0","#F0903F","#9DB6DA"]},
"legend":{"orient":"none","legendX":-22.3,"legendY":-42,"direction":"horizontal","columns":4,"title":null,"symbolType":"stroke","symbolSize":1089,"symbolStrokeWidth":3,"clipHeight":11,"labelFont":"Liberation Sans","labelFontSize":11,"labelColor":"#111111","labelOffset":2.5,"columnPadding":0,"rowPadding":0,"padding":0,"labelLimit":0}}
}
}
]
},
{
"width":760,"height":245,
"data":{"values":[{"v":0}]},
"mark":{"type":"rule","color":"#B4B4B4","strokeWidth":3},
"encoding":{"y":{"field":"v","type":"quantitative","scale":{"domain":[0,1]},"axis":null}},
"title":{"text":"资料来源：Wind 中信期货研究所","orient":"bottom","anchor":"start","frame":"group","font":"Noto Sans CJK JP","fontSize":14,"fontWeight":"normal","color":"#000000","baseline":"alphabetic","offset":14,"dx":-51.7}
}
]
}
